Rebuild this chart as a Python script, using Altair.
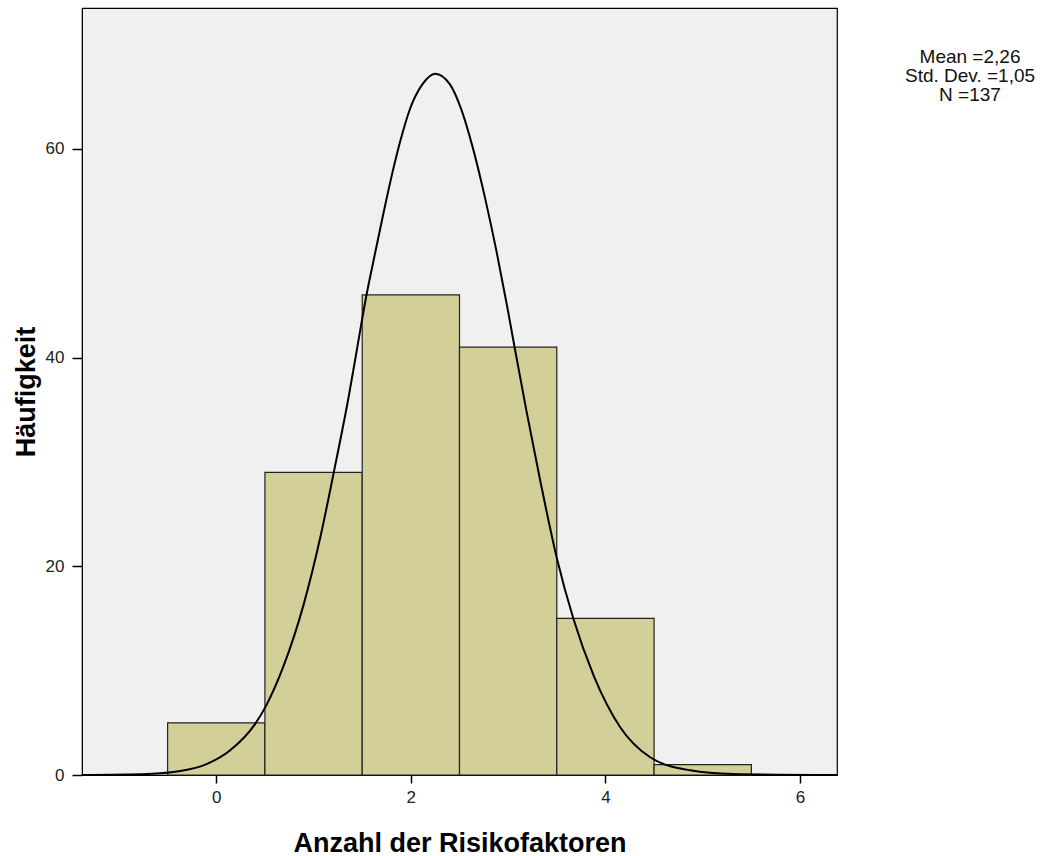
import altair as alt
import pandas as pd

# Histogram data
bins = [0, 1, 2, 3, 4, 5]
counts = [5, 29, 46, 41, 15, 1]

# Normal curve
curve_x = [-1.38, -0.71, -0.37, -0.10, 0.14, 0.40, 0.51, 0.69, 0.90, 1.07, 1.21, 1.36,
           1.45, 1.54, 1.63, 1.72, 1.81, 1.89, 1.99, 2.12, 2.25, 2.40, 2.51, 2.64,
           2.76, 2.88, 2.99, 3.07, 3.19, 3.33, 3.50, 3.67, 3.88, 4.15, 4.46, 4.87,
           5.31, 6.38]
curve_y = [0.0, 0.1, 0.38, 1.05, 2.35, 4.9, 6.6, 10.4, 16.4, 22.8, 29.1, 36.2,
           41.0, 45.8, 49.9, 53.9, 57.7, 60.7, 63.8, 66.2, 67.2, 66.2, 64.0, 60.0,
           55.4, 50.2, 44.9, 40.8, 34.8, 28.2, 20.8, 15.0, 9.5, 4.6, 1.7, 0.45,
           0.1, 0.0]

x_ticks = [0, 2, 4, 6]
y_ticks = [0, 20, 40, 60]
stats_lines = ["Mean =2,26", "Std. Dev. =1,05", "N =137"]

x_title = "Anzahl der Risikofaktoren"
y_title = "Häufigkeit"

FONT = "Liberation Sans"

hist_df = pd.DataFrame({"bin": bins, "count": counts})
curve_df = pd.DataFrame({"x": curve_x, "y": curve_y})

x_scale = alt.Scale(domain=[-1.38, 6.38], nice=False, zero=False)
y_scale = alt.Scale(domain=[0, 73.5], nice=False)

x_axis = alt.Axis(values=x_ticks, format="d", grid=False, tickSize=8, labelFontSize=17,
                  labelPadding=6, title=x_title, titleFontSize=27, titleFontWeight="bold",
                  titlePadding=25, labelFont=FONT, titleFont=FONT, domainColor="black",
                  tickColor="black", labelColor="#222222", titleColor="black",
                  tickWidth=1.5)
y_axis = alt.Axis(values=y_ticks, format="d", grid=False, tickSize=10, labelFontSize=17,
                  labelPadding=8, title=y_title, titleFontSize=27, titleFontWeight="bold",
                  titlePadding=5, labelFont=FONT, titleFont=FONT, domainColor="black",
                  tickColor="black", labelColor="#222222", titleColor="black",
                  tickWidth=1.5)

bars = alt.Chart(hist_df).transform_calculate(
    lo="datum.bin - 0.5", hi="datum.bin + 0.5"
).mark_rect(fill="#d3cf98", stroke="#222222", strokeWidth=1.2).encode(
    x=alt.X("lo:Q", scale=x_scale, axis=x_axis),
    x2="hi:Q",
    y=alt.Y("count:Q", scale=y_scale, axis=y_axis),
    y2=alt.datum(0),
)

curve = alt.Chart(curve_df).mark_line(color="black", strokeWidth=2, interpolate="monotone",
                                      clip=True).encode(
    x=alt.X("x:Q", scale=x_scale),
    y=alt.Y("y:Q", scale=y_scale),
)

stats = alt.Chart(pd.DataFrame({"a": [0]})).mark_text(
    font=FONT, fontSize=19, align="center", baseline="top", lineHeight=19, color="#111111"
).encode(
    x=alt.value(888), y=alt.value(40), text=alt.value(stats_lines)
)

chart = alt.layer(bars, curve, stats).properties(
    width=755, height=767,
    autosize=alt.AutoSizeParams(type="none"),
    padding={"left": 82, "top": 8, "right": 206, "bottom": 81},
    background="white",
).configure_view(fill="#f0f0f0", stroke="black", strokeWidth=1.2)

chart.save("out.html", embed_options={"renderer": "svg", "actions": False})
